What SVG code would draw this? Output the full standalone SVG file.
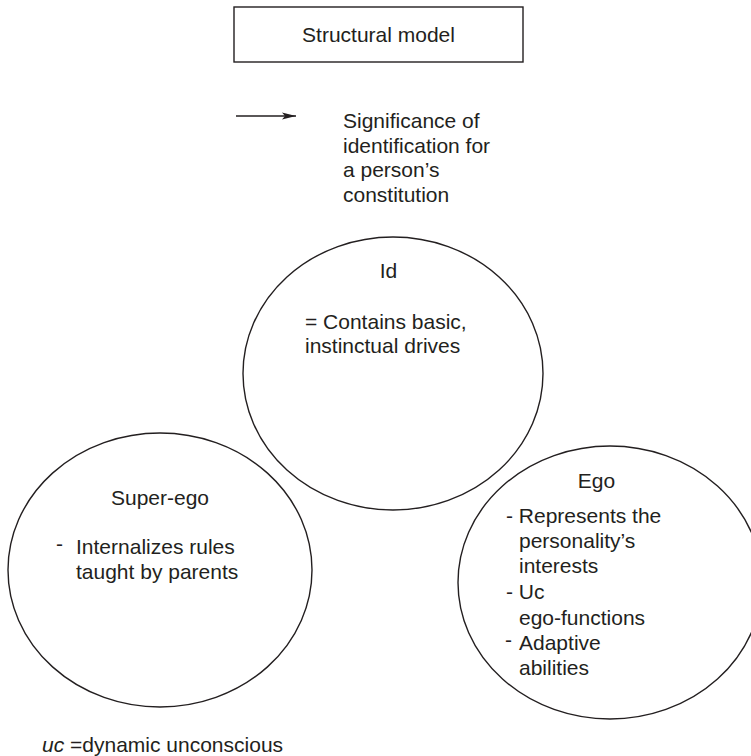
<svg xmlns="http://www.w3.org/2000/svg" width="751" height="756" viewBox="0 0 751 756">
  <style>
    text { font-family: "Liberation Sans", Arial, sans-serif; font-size: 21px; fill: #231f20; }
    .mid { text-anchor: middle; }
    .shape { fill: none; stroke: #231f20; stroke-width: 1.4; }
    .it { font-style: italic; }
  </style>
  <defs>
    <marker id="arrowhead" markerWidth="14" markerHeight="8" refX="14" refY="4" orient="auto" markerUnits="userSpaceOnUse">
      <path d="M0,0.5 L14,4 L0,7.5 L3,4 Z" fill="#231f20"/>
    </marker>
  </defs>

  <!-- Title box -->
  <g id="title">
    <rect class="shape" x="234" y="7" width="289" height="55"/>
    <text class="mid" x="378.5" y="42">Structural model</text>
  </g>

  <!-- Legend arrow and its meaning -->
  <g id="connectors">
    <line x1="236" y1="116" x2="296" y2="116" stroke="#231f20" stroke-width="1.4" marker-end="url(#arrowhead)"/>
  </g>
  <g id="legend">
    <text x="343" y="128">Significance of</text>
    <text x="343" y="152.5">identification for</text>
    <text x="343" y="177">a person’s</text>
    <text x="343" y="201.5">constitution</text>
  </g>

  <!-- Id -->
  <g id="id">
    <ellipse class="shape" cx="393" cy="373.5" rx="150" ry="136.5"/>
    <text class="mid" x="388.5" y="278">Id</text>
    <text x="305" y="329">= Contains basic,</text>
    <text x="305" y="353">instinctual drives</text>
  </g>

  <!-- Super-ego -->
  <g id="superego">
    <ellipse class="shape" cx="160" cy="570" rx="152" ry="137"/>
    <text class="mid" x="160" y="505">Super-ego</text>
    <text x="56" y="551">-</text>
    <text x="76" y="554">Internalizes rules</text>
    <text x="76" y="578.5">taught by parents</text>
  </g>

  <!-- Ego -->
  <g id="ego">
    <ellipse class="shape" cx="610" cy="582.5" rx="152" ry="136.5"/>
    <text class="mid" x="596.5" y="488">Ego</text>
    <text x="506" y="523">- Represents the</text>
    <text x="519" y="548">personality’s</text>
    <text x="519" y="573">interests</text>
    <text x="506" y="599">- Uc</text>
    <text x="519" y="625">ego-functions</text>
    <text x="505" y="646.5">-</text>
    <text x="519" y="650">Adaptive</text>
    <text x="519" y="675">abilities</text>
  </g>

  <!-- Footnote -->
  <g id="footnote">
    <text x="42" y="752"><tspan class="it">uc</tspan> =dynamic unconscious</text>
  </g>
</svg>
